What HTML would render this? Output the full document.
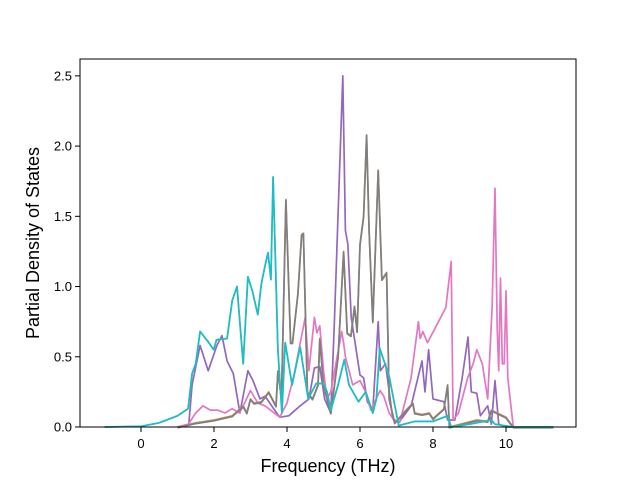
<!DOCTYPE html>
<html><head><meta charset="utf-8"><style>
body{margin:0;background:#fff}
svg text{font-family:"Liberation Sans","DejaVu Sans",sans-serif}
</style></head><body>
<svg id="chart" width="640" height="480" xmlns="http://www.w3.org/2000/svg">
<rect x="0" y="0" width="640" height="480" fill="#fff"/>
<g id="series"></g>
<rect x="80" y="59" width="496" height="368" fill="none" stroke="#000" stroke-width="1"/>
<g id="xticks"></g>
<g id="yticks"></g>
<text x="328" y="472" font-size="18" text-anchor="middle">Frequency (THz)</text>
<text transform="translate(39,243) rotate(-90)" font-size="18" text-anchor="middle">Partial Density of States</text>
</svg>
<script>
const xTicks=[0,2,4,6,8,10];
const yTicks=[0.0,0.5,1.0,1.5,2.0,2.5];
const xTickLabels=["0","2","4","6","8","10"];
const yTickLabels=["0.0","0.5","1.0","1.5","2.0","2.5"];
const cyanF=[-1,0,0.5,1,1.29,1.4,1.5,1.62,1.86,1.99,2.07,2.36,2.5,2.63,2.8,2.93,3.05,3.2,3.3,3.4,3.48,3.56,3.62,3.75,3.86,3.95,4.14,4.36,4.58,4.8,5.0,5.1,5.2,5.4,5.57,5.7,5.96,6.16,6.35,6.45,6.54,6.8,7.06,7.5,8.0,8.4,8.5,9.0,9.6,9.7,10.2,11.3];
const cyanV=[0,0.005,0.03,0.08,0.13,0.38,0.45,0.68,0.6,0.55,0.62,0.63,0.9,1.0,0.45,1.07,0.97,0.8,1.02,1.15,1.24,1.05,1.78,0.55,0.1,0.6,0.3,0.57,0.2,0.31,0.31,0.25,0.12,0.3,0.48,0.3,0.18,0.25,0.1,0.2,0.56,0.36,0.01,0.04,0.04,0.08,0,0.02,0.05,0.02,0,0];
const purpleF=[1.0,1.31,1.4,1.62,1.84,2.08,2.22,2.36,2.53,2.71,2.93,3.07,3.26,3.4,3.58,3.8,4.05,4.36,4.6,4.75,4.9,5.03,5.2,5.3,5.53,5.6,5.67,5.76,6.0,6.1,6.2,6.35,6.5,6.56,6.7,6.9,7.06,7.4,7.7,7.78,7.88,8.0,8.3,8.4,8.6,8.8,8.96,9.05,9.2,9.3,9.5,9.6,9.7,9.8,10.0,10.3];
const purpleV=[0,0.02,0.3,0.58,0.4,0.58,0.65,0.47,0.38,0.1,0.4,0.33,0.2,0.22,0.15,0.07,0.08,0.15,0.2,0.42,0.43,0.2,0.1,0.75,2.5,1.4,1.3,0.78,0.37,0.35,0.18,0.12,0.75,0.4,0.45,0.06,0.03,0.15,0.47,0.25,0.55,0.2,0.18,0.05,0.05,0.35,0.64,0.25,0.24,0.08,0.15,0.02,0.33,0.02,0,0];
const pinkF=[1.0,1.3,1.5,1.7,1.9,2.1,2.3,2.5,2.7,2.8,3.0,3.2,3.4,3.8,4.0,4.2,4.5,4.6,4.75,4.82,4.9,5.0,5.1,5.2,5.5,5.55,5.6,5.8,6.0,6.15,6.3,6.55,6.65,6.8,6.95,7.1,7.4,7.6,7.65,7.72,7.85,8.35,8.5,8.55,8.7,8.95,9.1,9.2,9.35,9.5,9.62,9.7,9.76,9.8,9.85,9.9,9.95,10.0,10.05,10.2,11.3];
const pinkV=[0,0.02,0.1,0.15,0.12,0.12,0.1,0.13,0.1,0.15,0.26,0.17,0.15,0.07,0.17,0.38,0.78,0.4,0.78,0.67,0.72,0.4,0.2,0.25,0.68,0.6,0.5,0.3,0.33,0.25,0.12,0.26,0.22,0.1,0.04,0.04,0.35,0.75,0.63,0.68,0.6,0.85,1.18,0.05,0.1,0.35,0.45,0.55,0.45,0.2,0.85,1.7,0.7,0.4,1.06,0.45,0.45,0.97,0.35,0,0];
const brownF=[1.0,1.5,2.0,2.5,2.8,2.9,3.0,3.1,3.3,3.5,3.7,3.75,3.85,3.97,4.1,4.15,4.3,4.4,4.45,4.56,4.7,4.85,4.9,5.0,5.2,5.4,5.55,5.65,5.75,5.85,5.92,6.0,6.1,6.18,6.25,6.35,6.5,6.6,6.73,6.8,6.95,7.3,7.45,7.5,7.7,7.9,8.0,8.3,8.4,8.45,8.9,9.2,9.5,9.6,10.0,10.2,11.3];
const brownV=[0,0.03,0.05,0.08,0.15,0.1,0.2,0.17,0.18,0.25,0.15,0.4,0.2,1.62,0.6,0.6,0.95,1.37,1.38,0.25,0.2,0.3,0.63,0.3,0.1,0.5,1.25,0.67,0.65,0.86,0.68,1.3,1.5,2.08,1.4,0.75,1.83,1.05,1.1,0.2,0.03,0.13,0.17,0.1,0.09,0.1,0.06,0.13,0.3,0,0.03,0.05,0.04,0.12,0.07,0,0];
const x0=80,x1=576,y0=427,y1=59,xmin=-1.671,xmax=11.918,ymin=0,ymax=2.62;
function sx(f){return x0+(f-xmin)/(xmax-xmin)*(x1-x0);}
function sy(v){return y0-(v-ymin)/(ymax-ymin)*(y0-y1);}
const NS="http://www.w3.org/2000/svg";
const g=document.getElementById('series');
function line(F,V,color,name,dy){
  const p=document.createElementNS(NS,'polyline');
  p.setAttribute('points',F.map((f,i)=>sx(f).toFixed(1)+','+(sy(V[i])+dy).toFixed(1)).join(' '));
  p.setAttribute('fill','none');p.setAttribute('stroke',color);p.setAttribute('stroke-width','1.7');p.setAttribute('stroke-linejoin','round');
  
  
  g.appendChild(p);
}
line(purpleF,purpleV,'#9467bd','purple-series',0);
line(brownF,brownV,'#c49060','brown-series',0);
line(pinkF,pinkV,'#e377c2','pink-series',0);
line(brownF,brownV,'#7f7f7f','gray-series',0.8);
line(cyanF,cyanV,'#bcbd22','olive-series',0);
line(cyanF,cyanV,'#17becf','cyan-series',0);
const xg=document.getElementById('xticks');
xTicks.forEach((t,i)=>{
  const l=document.createElementNS(NS,'line');
  l.setAttribute('x1',sx(t));l.setAttribute('x2',sx(t));l.setAttribute('y1',y0);l.setAttribute('y2',y0+5);l.setAttribute('stroke','#000');
  
  
  xg.appendChild(l);
  const tx=document.createElementNS(NS,'text');
  tx.setAttribute('x',sx(t));tx.setAttribute('y',y0+21);tx.setAttribute('font-size','13');tx.setAttribute('text-anchor','middle');
  tx.textContent=xTickLabels[i];
  
  
  xg.appendChild(tx);
});
const yg=document.getElementById('yticks');
yTicks.forEach((t,i)=>{
  const l=document.createElementNS(NS,'line');
  l.setAttribute('x1',x0-5);l.setAttribute('x2',x0);l.setAttribute('y1',sy(t));l.setAttribute('y2',sy(t));l.setAttribute('stroke','#000');
  
  
  yg.appendChild(l);
  const tx=document.createElementNS(NS,'text');
  tx.setAttribute('x',x0-8);tx.setAttribute('y',sy(t)+4.5);tx.setAttribute('font-size','13');tx.setAttribute('text-anchor','end');
  tx.textContent=yTickLabels[i];
  
  
  yg.appendChild(tx);
});
</script>
</body></html>
